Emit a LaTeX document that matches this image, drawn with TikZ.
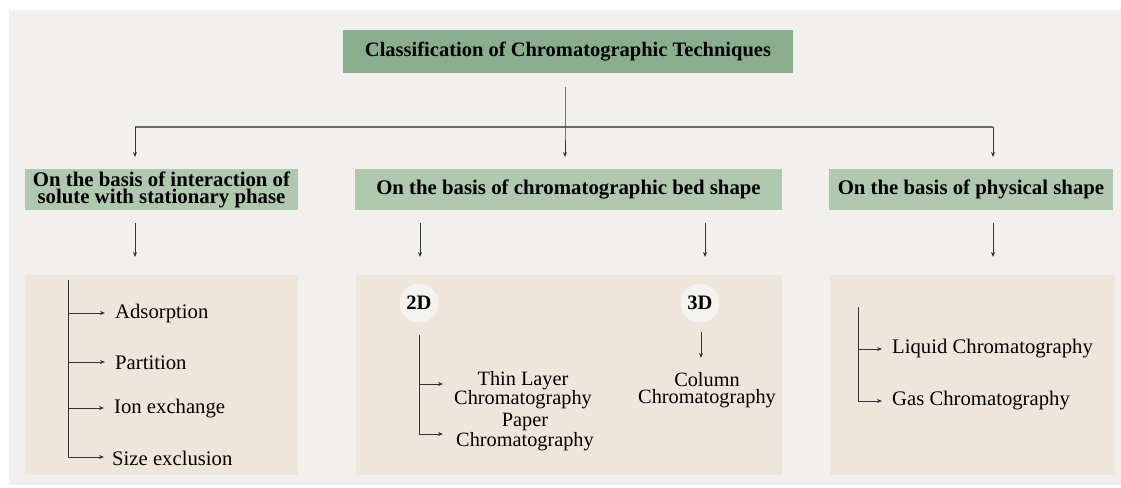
\documentclass[tikz,border=0pt]{standalone}
\usepackage{fontspec}
\setmainfont{Liberation Serif}
\usetikzlibrary{arrows.meta}
\definecolor{bgpanel}{HTML}{F1F0EC}
\definecolor{titlegreen}{HTML}{8AAD8E}
\definecolor{headgreen}{HTML}{AFC8AE}
\definecolor{beige}{HTML}{EEE6DA}
\definecolor{circ}{HTML}{F5F3EF}
\definecolor{ink}{HTML}{333333}
\definecolor{bus}{HTML}{6A6A6A}
\begin{document}
\begin{tikzpicture}[x=1pt,y=-1pt,
  titlebox/.style={fill=titlegreen,minimum width=450pt,minimum height=43pt,inner sep=0pt,font=\fontsize{20.5}{21}\selectfont\bfseries},
  headbox/.style={fill=headgreen,minimum height=41pt,inner sep=0pt,align=center,font=\fontsize{20.8}{17}\selectfont\bfseries},
  contentbox/.style={fill=beige,minimum height=200pt,inner sep=0pt},
  circlab/.style={circle,fill=circ,minimum size=39pt,inner sep=0pt,font=\fontsize{20.5}{21}\selectfont\bfseries},
  item/.style={anchor=west,inner sep=0pt,font=\fontsize{20.7}{21}\selectfont},
  item2/.style={inner sep=0pt,align=center,font=\fontsize{20.3}{17}\selectfont},
  conn/.style={draw=ink,line width=0.9pt},
  arr/.style={conn,-{Stealth[length=5pt,width=4pt]}},
  busline/.style={draw=bus,line width=1.8pt}]
\useasboundingbox (0,0) rectangle (1121,487);
\fill[white] (0,0) rectangle (1121,487);
\fill[bgpanel] (9,10) rectangle (1121,485);

% title
\node[titlebox] (title) at (568,51.5) {Classification of Chromatographic Techniques};

% headers
\node[headbox,minimum width=273pt] (h1) at (161.5,189.5) {On the basis of interaction of\\solute with stationary phase};
\node[headbox,minimum width=427pt] (h2) at (568.5,189.5) {On the basis of chromatographic bed shape};
\node[headbox,minimum width=284pt] (h3) at (971,189.5) {On the basis of physical shape};

% content boxes
\node[contentbox,minimum width=273pt] (c1) at (161.5,375) {};
\node[contentbox,minimum width=426pt] (c2) at (569,375) {};
\node[contentbox,minimum width=285pt] (c3) at (972.5,375) {};

% bus
\coordinate (tstart) at (565,87);
\coordinate (bmid) at (565,127);
\coordinate (bl) at (135,127);
\coordinate (br) at (993,127);
\draw[busline] (bl) -- (br);
\draw[arr] (tstart) -- (bmid) -- (565,157);
\draw[arr] (bl) -- (135,157);
\draw[arr] (br) -- (993,157);

% header to content arrows
\coordinate (a1s) at (135,223); \coordinate (a1e) at (135,257);
\coordinate (a2s) at (420,223); \coordinate (a2e) at (420,257);
\coordinate (a3s) at (705,223); \coordinate (a3e) at (705,257);
\coordinate (a4s) at (993,223); \coordinate (a4e) at (993,257);
\draw[arr] (a1s) -- (a1e);
\draw[arr] (a2s) -- (a2e);
\draw[arr] (a3s) -- (a3e);
\draw[arr] (a4s) -- (a4e);

% left tree
\node[item] (ads) at (115,314) {Adsorption};
\node[item] (par) at (115,363) {Partition};
\node[item] (ion) at (114,409) {Ion exchange};
\node[item] (siz) at (112,458) {Size exclusion};
\coordinate (t1top) at (68,280);
\coordinate (t1bot) at (68,457);
\draw[conn] (t1top) -- (t1bot);
\draw[arr] (68,313) -- (105,313);
\draw[arr] (68,362) -- (105,362);
\draw[arr] (68,408) -- (104,408);
\draw[arr] (t1bot) -- (104,457);

% middle
\node[circlab] (d2) at (419,303) {2D};
\node[circlab] (d3) at (700,303) {3D};
\node[item2] (tlc) at (523,390) {Thin Layer\\Chromatography};
\node[item2] (pap) at (525,432) {Paper\\Chromatography};
\node[item2] (col) at (707,390) {Column\\Chromatography};
\coordinate (t2top) at (419,335);
\coordinate (t2bot) at (419,434);
\coordinate (b1) at (443,384);
\coordinate (b2) at (443,434);
\draw[conn] (t2top) -- (t2bot);
\draw[arr] (419,384) -- (b1);
\draw[arr] (t2bot) -- (b2);
\coordinate (c3s) at (701,332);
\coordinate (c3e) at (701,358);
\draw[arr] (c3s) -- (c3e);

% right tree
\node[item] (liq) at (892,349) {Liquid Chromatography};
\node[item] (gas) at (892,401) {Gas Chromatography};
\coordinate (t3top) at (858,307);
\coordinate (t3bot) at (858,401);
\draw[conn] (t3top) -- (t3bot);
\draw[arr] (858,349) -- (882,349);
\draw[arr] (t3bot) -- (882,401);
\end{tikzpicture}
\end{document}
